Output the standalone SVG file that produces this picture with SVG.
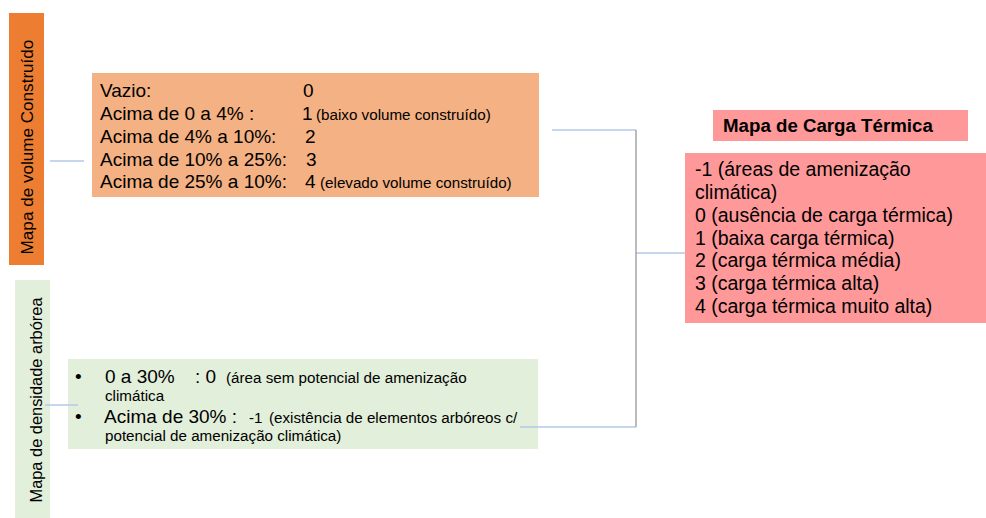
<svg xmlns="http://www.w3.org/2000/svg" width="986" height="518" viewBox="0 0 986 518">
<style>
text{font-family:"Liberation Sans",Arial,sans-serif;fill:#000}
.m{font-size:19px}
.s{font-size:15.2px}
.p{font-size:19.5px}
.h{font-size:18.7px;font-weight:bold}
.cb{stroke:#B4C7E7;stroke-width:1.5;fill:none}
.cg{stroke:#A6A6A6;stroke-width:1.5;fill:none}
</style>
<rect width="986" height="518" fill="#FFFFFF"/>
<g id="label-volume">
<rect x="9" y="13" width="35" height="252" fill="#ED7D31"/>
<text font-size="17.1" text-anchor="middle" transform="translate(33,147) rotate(-90)">Mapa de volume Construído</text>
</g>
<g id="label-densidade">
<rect x="15" y="280" width="35" height="238" fill="#E2EFDA"/>
<text font-size="16.4" text-anchor="middle" transform="translate(42,400) rotate(-90)">Mapa de densidade arbórea</text>
</g>
<g id="volume-classes">
<rect x="92" y="73" width="447" height="124" fill="#F4B183"/>
<text class="m" x="100" y="97">Vazio:</text>
<text class="m" x="303" y="97">0</text>
<text class="m" x="100" y="120">Acima de 0 a 4% :</text>
<text class="m" x="302" y="120">1</text>
<text class="s" x="316" y="120">(baixo volume construído)</text>
<text class="m" x="100" y="143">Acima de 4% a 10%:</text>
<text class="m" x="305" y="143">2</text>
<text class="m" x="100" y="166">Acima de 10% a 25%:</text>
<text class="m" x="306" y="166">3</text>
<text class="m" x="100" y="188">Acima de 25% a 10%:</text>
<text class="m" x="305" y="188">4</text>
<text class="s" x="320" y="188">(elevado volume construído)</text>
</g>
<g id="densidade-classes">
<rect x="68" y="359" width="470" height="90" fill="#E2EFDA"/>
<text class="m" x="75" y="383">•</text>
<text class="m" x="105" y="383">0 a 30%</text>
<text class="m" x="195" y="383">: 0</text>
<text class="s" x="226" y="383">(área sem potencial de amenização</text>
<text class="s" x="105" y="401">climática</text>
<text class="m" x="75" y="423">•</text>
<text class="m" x="104" y="423">Acima de 30% :</text>
<text class="s" x="249" y="423">-1</text>
<text class="s" x="269" y="423">(existência de elementos arbóreos c/</text>
<text class="s" x="105" y="441">potencial de amenização climática)</text>
</g>
<g id="carga-titulo">
<rect x="713" y="110" width="255" height="31" fill="#FF9999"/>
<text class="h" x="723" y="132">Mapa de Carga Térmica</text>
</g>
<g id="carga-classes">
<rect x="685" y="153" width="301" height="170" fill="#FF9999"/>
<text class="p" x="695" y="176">-1 (áreas de amenização</text>
<text class="p" x="695" y="199">climática)</text>
<text class="p" x="695" y="222">0 (ausência de carga térmica)</text>
<text class="p" x="695" y="245">1 (baixa carga térmica)</text>
<text class="p" x="695" y="267">2 (carga térmica média)</text>
<text class="p" x="695" y="290">3 (carga térmica alta)</text>
<text class="p" x="695" y="313">4 (carga térmica muito alta)</text>
</g>
<g id="connectors">
<line class="cb" x1="50" y1="161" x2="84" y2="161"/>
<line class="cb" x1="45" y1="405" x2="78" y2="405"/>
<line class="cb" x1="552" y1="130" x2="636" y2="130"/>
<line class="cb" x1="520" y1="427" x2="636" y2="427"/>
<line class="cb" x1="636" y1="253" x2="685" y2="253"/>
<line class="cg" x1="636" y1="130" x2="636" y2="427"/>
</g>
</svg>
